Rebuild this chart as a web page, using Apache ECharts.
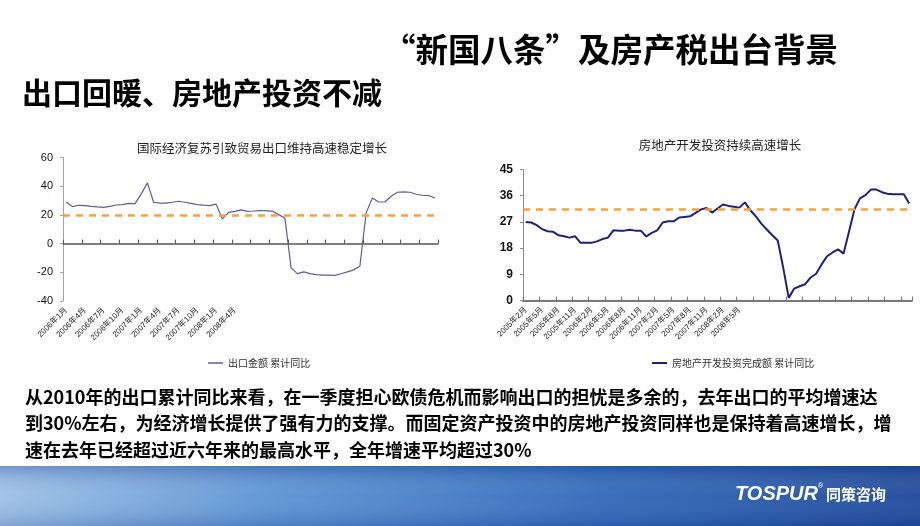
<!DOCTYPE html>
<html><head><meta charset="utf-8">
<script src="https://cdn.jsdelivr.net/npm/echarts@6/dist/echarts.min.js"></script>
<style>html,body{margin:0;padding:0;background:#fff}#c{width:920px;height:526px}</style>
</head><body><div id="c"></div><script>
// ---- data ----
const exportMonths = [
 '2006年1月','2006年2月','2006年3月','2006年4月','2006年5月','2006年6月','2006年7月','2006年8月','2006年9月','2006年10月','2006年11月','2006年12月',
 '2007年1月','2007年2月','2007年3月','2007年4月','2007年5月','2007年6月','2007年7月','2007年8月','2007年9月','2007年10月','2007年11月','2007年12月',
 '2008年1月','2008年2月','2008年3月','2008年4月','2008年5月','2008年6月','2008年7月','2008年8月','2008年9月','2008年10月','2008年11月','2008年12月',
 '2009年1月','2009年2月','2009年3月','2009年4月','2009年5月','2009年6月','2009年7月','2009年8月','2009年9月','2009年10月','2009年11月','2009年12月',
 '2010年1月','2010年2月','2010年3月','2010年4月','2010年5月','2010年6月','2010年7月','2010年8月','2010年9月','2010年10月','2010年11月','2010年12月'];
const exportGrowth = [
 28.8,25.8,26.7,26.5,26.0,25.6,25.3,26.0,26.9,27.2,28.0,27.7,
 34.5,42.3,28.8,28.2,28.2,28.8,29.5,28.8,28.0,27.2,26.8,26.5,
 27.5,17.2,21.8,22.5,23.5,22.5,22.7,23.0,23.0,22.5,20.2,17.9,
 -16.9,-20.9,-19.7,-20.9,-21.6,-21.9,-21.9,-22.1,-21.0,-19.7,-18.3,-15.8,
 21.4,31.8,29.0,29.0,33.0,35.8,36.0,35.8,34.4,33.7,33.5,31.8];
const exportRef = 20;
const exportTicks = [-40,-20,0,20,40,60];

const estateMonths = [
 '2005年2月','2005年3月','2005年4月','2005年5月','2005年6月','2005年7月','2005年8月','2005年9月','2005年10月','2005年11月','2005年12月',
 '2006年1月','2006年2月','2006年3月','2006年4月','2006年5月','2006年6月','2006年7月','2006年8月','2006年9月','2006年10月','2006年11月','2006年12月',
 '2007年1月','2007年2月','2007年3月','2007年4月','2007年5月','2007年6月','2007年7月','2007年8月','2007年9月','2007年10月','2007年11月','2007年12月',
 '2008年1月','2008年2月','2008年3月','2008年4月','2008年5月','2008年6月','2008年7月','2008年8月','2008年9月','2008年10月','2008年11月','2008年12月',
 '2009年1月','2009年2月','2009年3月','2009年4月','2009年5月','2009年6月','2009年7月','2009年8月','2009年9月','2009年10月','2009年11月','2009年12月',
 '2010年1月','2010年2月','2010年3月','2010年4月','2010年5月','2010年6月','2010年7月','2010年8月','2010年9月','2010年10月','2010年11月','2010年12月'];
const estateGrowth = [
 27.0,26.8,25.9,24.5,23.8,23.6,22.4,22.1,21.6,22.1,19.8,
 19.8,19.8,20.3,21.1,21.6,24.1,24.0,24.0,24.3,24.0,24.0,22.0,
 23.2,24.1,26.8,27.2,27.2,28.5,28.7,28.9,30.1,31.3,31.8,30.2,
 31.6,33.0,32.5,32.2,31.9,33.7,31.0,28.9,26.4,24.4,22.4,20.6,
 11.2,0.9,4.1,4.9,5.6,7.9,9.2,12.4,15.2,16.5,17.6,16.1,
 23.6,31.3,35.1,36.2,38.1,38.1,37.2,36.7,36.5,36.5,36.5,33.3];
const estateRef = 31.3;
const estateTicks = [0,9,18,27,36,45];

const exportName = '出口金额 累计同比';
const estateName = '房地产开发投资完成额 累计同比';
const exportTitle = '国际经济复苏引致贸易出口维持高速稳定增长';
const estateTitle = '房地产开发投资持续高速增长';
const pageTitle = '“新国八条”及房产税出台背景';
const subTitle = '出口回暖、房地产投资不减';
const bodyLines = [
 '从2010年的出口累计同比来看，在一季度担心欧债危机而影响出口的担忧是多余的，去年出口的平均增速达',
 '到30%左右，为经济增长提供了强有力的支撑。而固定资产投资中的房地产投资同样也是保持着高速增长，增',
 '速在去年已经超过近六年来的最高水平，全年增速平均超过30%'];

// ---- chart ----
const FONT = '"Liberation Sans", "Noto Sans CJK SC", sans-serif';
const CJK = '"Noto Sans CJK SC", sans-serif';
const chart = echarts.init(document.getElementById('c'), null, {renderer: 'canvas'});

const refLine = (v) => ({
  silent: true, symbol: 'none',
  label: {show: false},
  lineStyle: {color: '#F7A238', width: 2.5, type: [7, 6]},
  data: [{yAxis: v}]
});

const bodyGraphics = bodyLines.map((t, i) => ({
  type: 'text', x: 25, y: 397 + i * 26.5, z: 10,
  style: {text: t, font: 'bold 18px ' + CJK, fill: '#000', textVerticalAlign: 'middle'}
}));

chart.setOption({
  animation: false,
  backgroundColor: '#fff',
  grid: [
    {left: 63, top: 157.5, width: 375, height: 143.5, containLabel: false, outerBoundsMode: 'none'},
    {left: 523, top: 169.5, width: 389, height: 131, containLabel: false, outerBoundsMode: 'none'}
  ],
  xAxis: [
    {type: 'category', gridIndex: 0, data: exportMonths, boundaryGap: true, position: 'bottom',
     axisLine: {show: false, onZero: false}, axisTick: {show: false},
     axisLabel: {interval: 2, rotate: 45, fontSize: 8, color: '#222', fontFamily: FONT, margin: 8,
       formatter: (v, i) => i <= 27 ? v : ''}},
    {type: 'category', gridIndex: 0, data: exportMonths, boundaryGap: true, position: 'bottom',
     axisLine: {show: true, onZero: true, lineStyle: {color: '#555', width: 1.5}},
     axisTick: {show: true, inside: true, interval: 2, length: 4, lineStyle: {color: '#555'}},
     axisLabel: {show: false}},
    {type: 'category', gridIndex: 1, data: estateMonths, boundaryGap: true, position: 'bottom',
     axisLine: {show: true, onZero: false, lineStyle: {color: '#7a7a7a', width: 2}},
     axisTick: {show: true, inside: true, interval: 2, length: 4, lineStyle: {color: '#7a7a7a'}},
     axisLabel: {interval: 2, rotate: 45, fontSize: 8, color: '#222', fontFamily: FONT, margin: 8,
       formatter: (v, i) => i <= 39 ? v : ''}}
  ],
  yAxis: [
    {type: 'value', gridIndex: 0, min: exportTicks[0], max: exportTicks[exportTicks.length - 1], interval: 20,
     splitLine: {show: false},
     axisLine: {show: true, lineStyle: {color: '#a99cb9', width: 1}},
     axisTick: {show: true, length: 3, lineStyle: {color: '#a99cb9'}},
     axisLabel: {fontSize: 11, color: '#111', fontFamily: FONT, margin: 10}},
    {type: 'value', gridIndex: 1, min: estateTicks[0], max: estateTicks[estateTicks.length - 1], interval: 9,
     splitLine: {show: false},
     axisLine: {show: true, lineStyle: {color: '#8a8a8a', width: 1}},
     axisTick: {show: true, length: 3, lineStyle: {color: '#8a8a8a'}},
     axisLabel: {fontSize: 12, fontWeight: 'bold', color: '#111', fontFamily: FONT, margin: 10}}
  ],
  legend: [
    {data: [exportName], left: 203, top: 353, icon: 'rect', itemWidth: 15, itemHeight: 1.5, itemGap: 4,
     textStyle: {fontSize: 10, color: '#333', fontFamily: CJK}},
    {data: [estateName], left: 647, top: 353, icon: 'rect', itemWidth: 15, itemHeight: 2, itemGap: 4,
     textStyle: {fontSize: 10, color: '#333', fontFamily: CJK}}
  ],
  series: [
    {name: exportName, type: 'line', xAxisIndex: 0, yAxisIndex: 0, data: exportGrowth,
     symbol: 'none', lineStyle: {color: '#5d5d9e', width: 1.2}, itemStyle: {color: '#5d5d9e'},
     markLine: refLine(exportRef), z: 3},
    {name: estateName, type: 'line', xAxisIndex: 2, yAxisIndex: 1, data: estateGrowth,
     symbol: 'none', lineStyle: {color: '#1c237c', width: 2}, itemStyle: {color: '#1c237c'},
     markLine: refLine(estateRef), z: 3}
  ],
  graphic: [
    {type: 'rect', z: 0, shape: {x: 0, y: 466, width: 920, height: 60},
     style: {fill: {type: 'linear', x: 0, y: 0, x2: 1, y2: 0, colorStops: [
       {offset: 0, color: '#9cc0e6'}, {offset: 0.3, color: '#5a92d3'},
       {offset: 0.65, color: '#2f68b9'}, {offset: 1, color: '#1d4798'}]}}},
    {type: 'rect', z: 1, shape: {x: 0, y: 466, width: 920, height: 60},
     style: {fill: {type: 'linear', x: 0, y: 0, x2: 0, y2: 1, colorStops: [
       {offset: 0, color: 'rgba(20,50,130,0.3)'}, {offset: 0.5, color: 'rgba(255,255,255,0.05)'},
       {offset: 1, color: 'rgba(20,50,130,0.2)'}]}}},
    {type: 'text', x: 735, y: 494, z: 10,
     style: {text: 'TOSPUR', font: 'italic bold 20px "Liberation Sans", sans-serif', fill: '#fff', textVerticalAlign: 'middle'}},
    {type: 'text', x: 818, y: 486, z: 10,
     style: {text: '®', font: '7px "Liberation Sans", sans-serif', fill: '#fff', textVerticalAlign: 'middle'}},
    {type: 'text', x: 826, y: 494, z: 10,
     style: {text: '同策咨询', font: 'bold 15px ' + CJK, fill: '#fff', textVerticalAlign: 'middle'}},
    {type: 'text', x: 383, y: 50, z: 10,
     style: {text: pageTitle, font: 'bold 32.5px ' + CJK, fill: '#000', textVerticalAlign: 'middle'}},
    {type: 'text', x: 22, y: 93, z: 10,
     style: {text: subTitle, font: 'bold 30px ' + CJK, fill: '#000', textVerticalAlign: 'middle'}},
    {type: 'text', x: 262, y: 148, z: 10,
     style: {text: exportTitle, font: '12.5px ' + CJK, fill: '#222', textAlign: 'center', textVerticalAlign: 'middle'}},
    {type: 'text', x: 720, y: 145, z: 10,
     style: {text: estateTitle, font: '12.5px ' + CJK, fill: '#222', textAlign: 'center', textVerticalAlign: 'middle'}}
  ].concat(bodyGraphics)
});
</script></body></html>
